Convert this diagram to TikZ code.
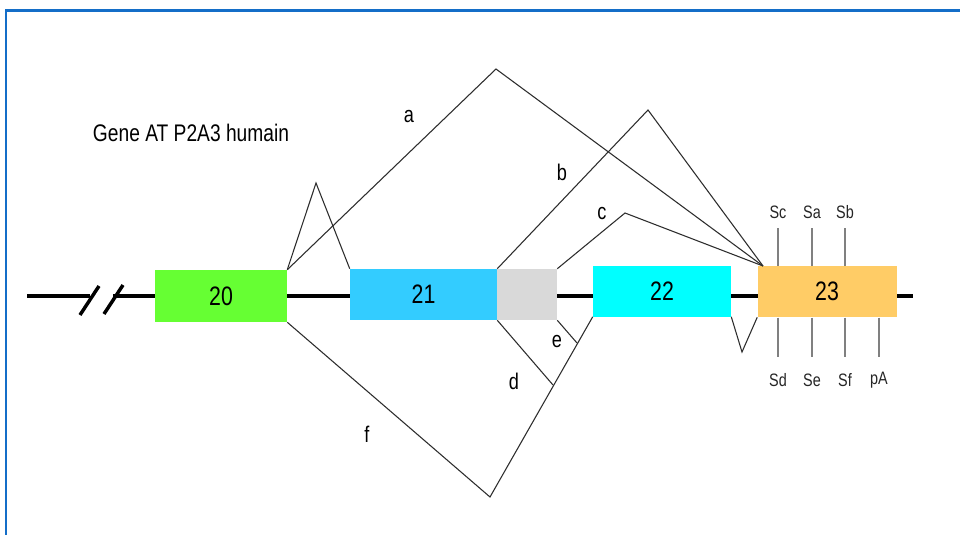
\documentclass[tikz,border=0pt]{standalone}
\usepackage{fontspec}
\setmainfont{Liberation Sans}[FakeStretch=0.8]
\definecolor{frameblue}{RGB}{20,110,200}
\definecolor{exA}{RGB}{102,255,51}
\definecolor{exB}{RGB}{51,204,255}
\definecolor{exG}{RGB}{217,217,217}
\definecolor{exC}{RGB}{0,255,255}
\definecolor{exD}{RGB}{255,204,102}
\definecolor{conn}{RGB}{45,45,45}
\definecolor{site}{RGB}{128,128,128}
\begin{document}
\begin{tikzpicture}[x=0.75pt,y=-0.75pt,
  exon/.style={draw=none,inner sep=0pt,font=\fontsize{20}{20}\selectfont},
  backbone/.style={line width=2.6pt,black},
  splice/.style={line width=0.8pt,conn,line join=miter},
  sitebar/.style={line width=2pt,site},
  lab/.style={font=\fontsize{17}{17}\selectfont,inner sep=0pt},
  slab/.style={font=\fontsize{13.5}{13.5}\selectfont,inner sep=0pt,text=black!85}]
\useasboundingbox (0,0) rectangle (960,535);
\fill[white] (0,0) rectangle (960,535);
\draw[frameblue,line width=1.6pt] (6,535) -- (6,10.5) -- (960,10.5);
% backbone
\coordinate (L0) at (27,296);
\coordinate (L1) at (90,296);
\coordinate (L2) at (113,296);
\coordinate (R0) at (913,296);
\draw[backbone] (L0) -- (L1);
\draw[backbone] (L2) -- (R0);
\draw[backbone] (80,315) -- (99,286);
\draw[backbone] (104,314) -- (123,285);
% exons
\node[exon,fill=exA,minimum width=99pt,minimum height=39pt] (e20) at (221,296) {20};
\node[exon,fill=exB,minimum width=110.25pt,minimum height=38.25pt] (e21) at (423.5,294.5) {21};
\node[exon,fill=exG,minimum width=45pt,minimum height=38.25pt] (eg) at (527,294.5) {};
\node[exon,fill=exC,minimum width=103.5pt,minimum height=38.25pt] (e22) at (662,291) {22};
\node[exon,fill=exD,minimum width=104.25pt,minimum height=38.25pt] (e23) at (827,291.5) {23};
% title
\node[font=\fontsize{18}{18}\selectfont,inner sep=0pt] (title) at (191,133) {Gene AT P2A3 humain};
% peaks
\coordinate (p0) at (316,183);
\coordinate (pa) at (496,69);
\coordinate (pb) at (648,110);
\coordinate (pc) at (625,213);
\coordinate (conv) at (763,266);
\coordinate (vd) at (553,385);
\coordinate (ve) at (577,343);
\coordinate (vf) at (490,497);
\coordinate (v22) at (742,352);
% splice lines
\draw[splice] (e20.north east) -- (p0) -- (e21.north west);
\draw[splice] (e20.north east) -- (pa) -- (conv);
\draw[splice] (e21.north east) -- (pb) -- (conv);
\draw[splice] (eg.north east) -- (pc) -- (conv);
\draw[splice] (e21.south east) -- (vd);
\draw[splice] (eg.south east) -- (ve);
\draw[splice] (e20.south east) -- (vf) -- (e22.south west);
\draw[splice] (e22.south east) -- (v22) -- (e23.south west);
% labels
\node[lab] (la) at (409,117) {a};
\node[lab] (lb) at (562,172) {b};
\node[lab] (lc) at (602,214) {c};
\node[lab] (ld) at (514,381) {d};
\node[lab] (le) at (557,342) {e};
\node[lab] (lf) at (367,434) {f};
% sites
\foreach \x/\t in {778/Sc,812/Sa,845/Sb}{
  \draw[sitebar] (\x,228) -- (\x,265.5);
  \node[slab] at (\x,212) {\t};
}
\foreach \x/\t in {778/Sd,812/Se,845/Sf,879/pA}{
  \draw[sitebar] (\x,317.5) -- (\x,357);
  \node[slab] at (\x,380) {\t};
}
\end{tikzpicture}
\end{document}
